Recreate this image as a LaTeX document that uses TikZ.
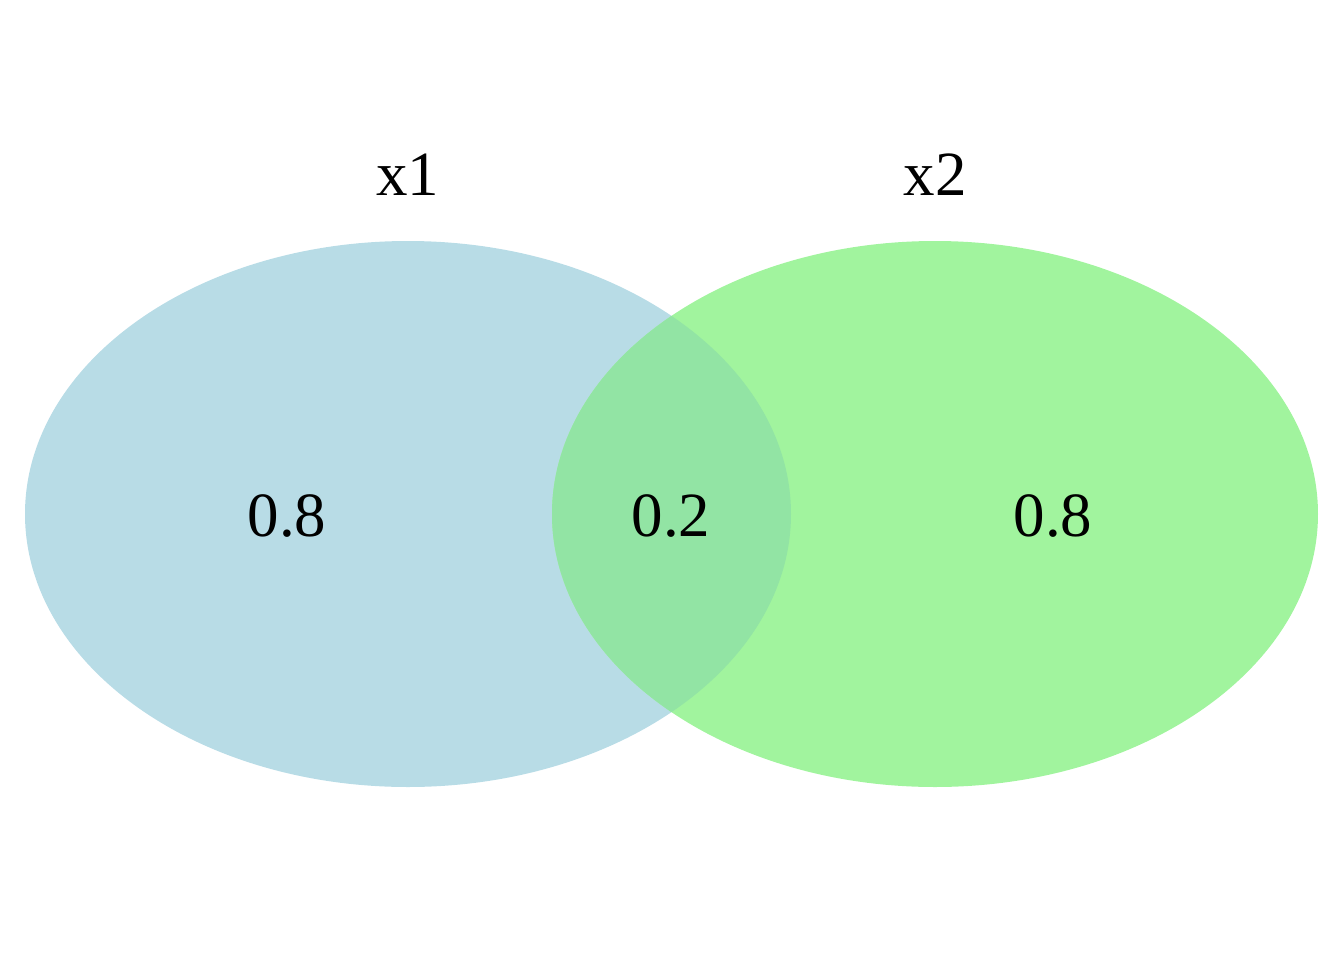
\documentclass[tikz,border=0pt]{standalone}
\usepackage{fontspec}
\setmainfont{Liberation Serif}
\definecolor{setA}{RGB}{184,220,230}
\definecolor{setB}{RGB}{161,244,158}
\definecolor{setAB}{RGB}{146,228,164}
\begin{document}
\begin{tikzpicture}[x=0.01cm,y=-0.01cm,
  lbl/.style={font=\fontsize{17.9}{21}\selectfont, inner sep=0pt}]
\useasboundingbox (0,0) rectangle (1344,960);
\fill[setA] (408,514) ellipse [x radius=383, y radius=273];
\fill[setB] (935,514) ellipse [x radius=383, y radius=273];
\begin{scope}
  \clip (408,514) ellipse [x radius=383, y radius=273];
  \fill[setAB] (935,514) ellipse [x radius=383, y radius=273];
\end{scope}
\node[lbl] (t1) at (408,175) {x1};
\node[lbl] (t2) at (935,175) {x2};
\node[lbl] (a) at (287,516) {0.8};
\node[lbl] (ab) at (671,516) {0.2};
\node[lbl] (b) at (1053,516) {0.8};
\end{tikzpicture}
\end{document}
